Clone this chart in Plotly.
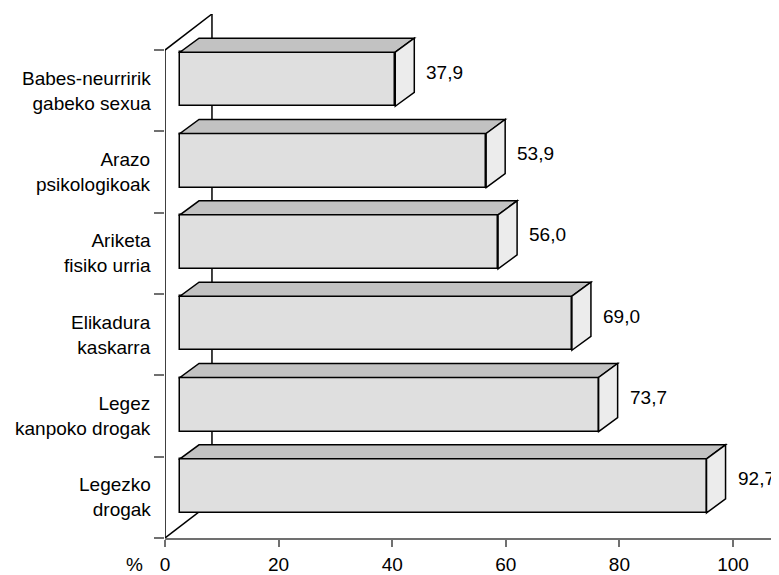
import plotly.graph_objects as go

categories = ["Babes-neurririk<br>gabeko sexua", "Arazo<br>psikologikoak", "Ariketa<br>fisiko urria",
              "Elikadura<br>kaskarra", "Legez<br>kanpoko drogak", "Legezko<br>drogak"]
values = [37.9, 53.9, 56.0, 69.0, 73.7, 92.7]
x_ticks = [0, 20, 40, 60, 80, 100]

FONT = "Liberation Sans, Arial, sans-serif"
FS = 19
n = len(categories)
pos = [n - 1 - i for i in range(n)]  # top category at highest y

# 3D geometry (data units)
dxf, dyf = 2.64, 0.141      # bar front offset from wall plane
ddx, ddy = 3.35, 0.172      # bar depth
wdx, wdy = 8.27, 0.443      # wall depth
h = 0.665                   # bar front height

fig = go.Figure()
fig.add_trace(go.Bar(
    x=values, y=[p + dyf for p in pos], base=dxf, orientation="h", width=h,
    marker=dict(color="#dfdfdf", line=dict(color="black", width=1.5)),
    hoverinfo="skip", showlegend=False))

shapes = []
line = dict(color="black", width=1.5)
# wall
shapes.append(dict(type="line", xref="x", yref="y", x0=0, y0=-0.5, x1=0, y1=n - 0.5, line=line, layer="below"))
shapes.append(dict(type="line", xref="x", yref="y", x0=0, y0=n - 0.5, x1=wdx, y1=n - 0.5 + wdy, line=line, layer="below"))
shapes.append(dict(type="line", xref="x", yref="y", x0=wdx, y0=n - 0.5 + wdy, x1=wdx, y1=-0.5 + wdy, line=line, layer="below"))
shapes.append(dict(type="line", xref="x", yref="y", x0=0, y0=-0.5, x1=wdx, y1=-0.5 + wdy, line=line, layer="below"))

annotations = []
for p, v, c in zip(pos, values, categories):
    yc = p + dyf
    yt, yb = yc + h / 2, yc - h / 2
    x0, x1 = dxf, dxf + v
    top = f"M {x0},{yt} L {x1},{yt} L {x1+ddx},{yt+ddy} L {x0+ddx},{yt+ddy} Z"
    side = f"M {x1},{yb} L {x1+ddx},{yb+ddy} L {x1+ddx},{yt+ddy} L {x1},{yt} Z"
    shapes.append(dict(type="path", xref="x", yref="y", path=top, fillcolor="#c2c2c2",
                       line=dict(color="black", width=1.5), layer="above"))
    shapes.append(dict(type="path", xref="x", yref="y", path=side, fillcolor="#ececec",
                       line=dict(color="black", width=1.5), layer="above"))
    annotations.append(dict(xref="x", yref="y", x=x1 + ddx, y=yc + ddy / 2, xshift=10,
                            text=f"{v:.1f}".replace(".", ","), showarrow=False, xanchor="left",
                            font=dict(family=FONT, size=FS, color="black")))
    annotations.append(dict(xref="x", yref="y", x=0, y=p, xshift=-12, text=c, showarrow=False,
                            xanchor="right", align="right",
                            font=dict(family=FONT, size=FS, color="black")))

annotations.append(dict(xref="paper", yref="paper", x=-0.0489, y=-0.0515, text="%", showarrow=False,
                        xanchor="center", yanchor="middle", font=dict(family=FONT, size=FS, color="black")))

fig.update_layout(
    width=771, height=567,
    margin=dict(l=157, r=0, t=6, b=37, autoexpand=False),
    plot_bgcolor="white", paper_bgcolor="white",
    shapes=shapes, annotations=annotations,
    bargap=0,
    xaxis=dict(range=[0, 108.1], tickvals=x_ticks, ticktext=[str(t) for t in x_ticks],
               showline=True, linecolor="#707070", linewidth=1.5, ticks="outside", ticklen=7,
               tickcolor="#707070", tickwidth=1.5, showgrid=False, zeroline=False, automargin=False,
               ticklabelstandoff=1, tickfont=dict(family=FONT, size=FS, color="black")),
    yaxis=dict(range=[-0.5, n - 0.5 + wdy], tickvals=[i - 0.5 for i in range(n + 1)],
               showticklabels=False, ticks="outside", ticklen=10, tickcolor="#707070", tickwidth=1.5,
               showline=False, showgrid=False, zeroline=False, automargin=False),
)
fig.write_html("out.html")
